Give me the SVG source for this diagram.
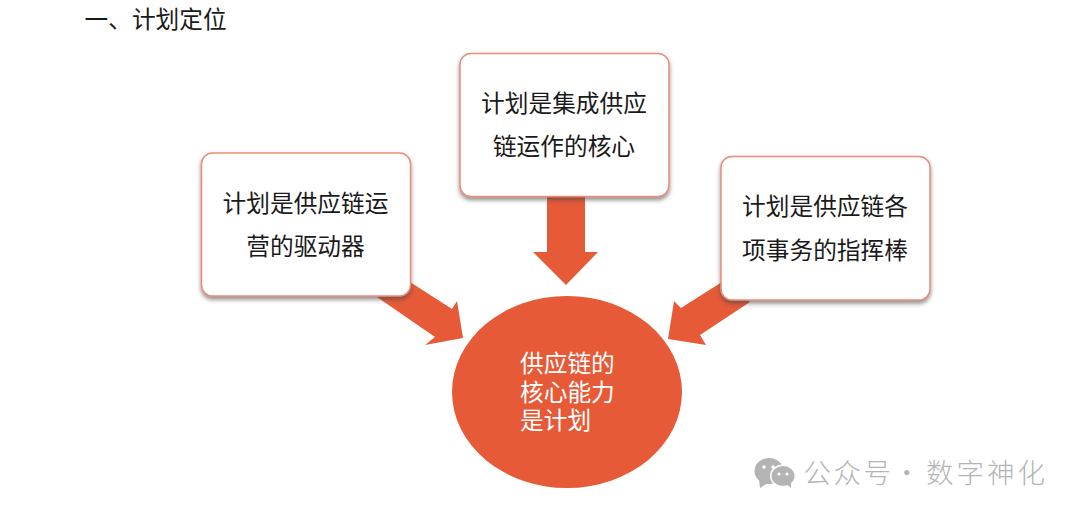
<svg xmlns="http://www.w3.org/2000/svg" width="1080" height="516" viewBox="0 0 1080 516">
<defs>
<filter id="sh" x="-10%" y="-10%" width="120%" height="125%"><feDropShadow dx="0" dy="3" stdDeviation="2" flood-color="#4a4a4a" flood-opacity="0.6"/></filter>
<style>
text{font-family:"Noto Sans CJK SC","Noto Sans",sans-serif;font-size:23.7px;fill:#1a1a1a}
.box{fill:#fff;stroke:#e98d78;stroke-width:1.5;filter:url(#sh)}
.arrow{fill:#e65a38}
.c{text-anchor:middle}
.w{fill:#fff}
.wm{fill:#b4b4b4;font-size:27.5px;font-weight:300}
.ic{fill:#b4b4b4}
.eye{fill:#fff}
</style>
</defs>
<rect width="1080" height="516" fill="#fff"/>
<text id="heading" x="84.500" y="28">一、计划定位</text>
<g id="connectors">
<polygon class="arrow" points="410,282 452,309 457,301 463,338 425,345 435,337 377,297"/>
<polygon class="arrow" points="547,190 585,190 585,252 598,252 566,285 533,252 547,252"/>
<polygon class="arrow" points="722,282 681,308 674,301 668,339 706,345 700,335 750,302"/>
</g>
<g id="node-left">
<rect class="box" x="201.5" y="153" width="209" height="143" rx="11"/>
<text class="c" x="305.500" y="212">计划是供应链运</text>
<text class="c" x="305.500" y="255">营的驱动器</text>
</g>
<g id="node-top">
<rect class="box" x="460" y="53.500" width="209" height="143" rx="11"/>
<text class="c" x="564" y="112">计划是集成供应</text>
<text class="c" x="564" y="155">链运作的核心</text>
</g>
<g id="node-right">
<rect class="box" x="721" y="156.500" width="209" height="143.500" rx="11"/>
<text class="c" x="825" y="215">计划是供应链各</text>
<text class="c" x="825" y="259">项事务的指挥棒</text>
</g>
<g id="node-center">
<ellipse class="arrow" cx="567" cy="392" rx="115" ry="96"/>
<text class="w"><tspan x="520" y="372">供应链的</tspan><tspan x="520" y="401">核心能力</tspan><tspan x="520" y="429">是计划</tspan></text>
</g>
<g id="watermark">
<ellipse class="ic" cx="769" cy="471" rx="14.500" ry="13"/>
<polygon class="ic" points="759,480 760,488 768,483"/>
<ellipse cx="783" cy="476" rx="13" ry="11.500" fill="#fff"/>
<ellipse class="ic" cx="783" cy="476" rx="11.500" ry="10"/>
<polygon class="ic" points="786,484 791,488 791,482"/>
<circle class="eye" cx="764" cy="467" r="1.800"/><circle class="eye" cx="773" cy="467" r="1.800"/>
<circle class="eye" cx="779" cy="474" r="1.500"/><circle class="eye" cx="787" cy="474" r="1.500"/>
<text class="wm" y="483" x="803.500 833.500 863.500 890 893 915 926 956.500 987 1017.500" xml:space="preserve">公众号 · 数字神化</text>
</g>
</svg>
